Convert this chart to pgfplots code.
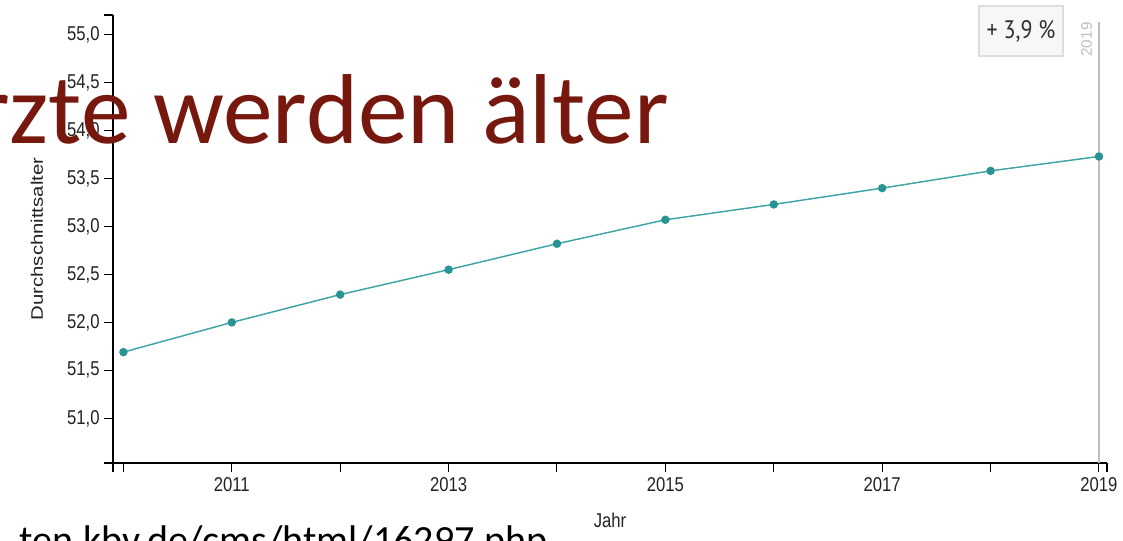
\documentclass[border=0pt]{standalone}
\usepackage{pgfplots}
\pgfplotsset{compat=1.18}
\usepackage{pgfplotstable}
\usepackage{fontspec}
\setmainfont{Liberation Sans}
\newfontfamily\calibri{Carlito}
\newfontfamily\din{PT Sans}
\definecolor{linec}{RGB}{64,164,164}
\definecolor{dotc}{RGB}{40,148,148}
\definecolor{titlec}{RGB}{118,24,13}
\definecolor{txt}{RGB}{34,34,34}
\definecolor{guide}{RGB}{190,190,190}
\definecolor{boxfill}{RGB}{247,247,247}
\definecolor{boxline}{RGB}{221,221,221}

% Durchschnittsalter der Aerzte, 2010-2019
\pgfplotstableread{
year age
2010 51.69
2011 52.00
2012 52.29
2013 52.55
2014 52.82
2015 53.07
2016 53.23
2017 53.40
2018 53.58
2019 53.73
}\agedata

\begin{document}
\begin{tikzpicture}
\begin{axis}[
    at={(84.75pt,-347.25pt)}, anchor=south west,
    scale only axis, width=745.5pt, height=336pt,
    xmin=2009.904, xmax=2019.074,
    ymin=50.534, ymax=55.205,
    axis lines=left,
    axis line style={-, black, line width=0.9pt},
    tick align=outside, major tick length=6.5pt,
    tick style={black, line width=0.8pt},
    xtick={2010,...,2019},
    xticklabels={,2011,,2013,,2015,,2017,,2019},
    ytick={51,51.5,52,52.5,53,53.5,54,54.5,55},
    extra x ticks={2009.904,2019.074}, extra x tick labels={},
    extra y ticks={50.534,55.205}, extra y tick labels={},
    extra tick style={grid=none},
    yticklabel style={/pgf/number format/.cd, fixed, fixed zerofill,
        precision=1, use comma, assume math mode=true},
    ticklabel style={font=\fontsize{12.5}{14}\selectfont, text=txt, yscale=1.2},
    every axis y label/.style={at={(rel axis cs:0,0.5)}, xshift=-57pt,
        rotate=90, anchor=center, font=\fontsize{12.5}{14}\selectfont, text=txt},
    ylabel={\scalebox{1.22}[1]{Durchschnittsalter}},
    every axis x label/.style={at={(rel axis cs:0.5,0)}, yshift=-42.75pt,
        anchor=center, yscale=1.2, font=\fontsize{12.5}{14}\selectfont, text=txt},
    xlabel={Jahr},
]
\draw[guide, line width=1.1pt] (axis cs:2019,50.534) -- (axis cs:2019,55.13);
\addplot[linec, line width=1.1pt, mark=*, mark size=2.6pt,
    mark options={draw=dotc, fill=dotc}] table[x=year, y=age] {\agedata};
\end{axis}

\node[rotate=90, text=guide, font=\fontsize{11.5}{13}\selectfont, inner sep=0]
    at (814.9pt,-29.6pt) {2019};
\node[draw=boxline, fill=boxfill, line width=0.8pt, minimum width=63pt,
    minimum height=37.5pt, inner sep=0] at (765.75pt,-23.25pt) {};
\node[inner sep=0, yscale=1.15, text={rgb,255:red,48;green,48;blue,48},
    font=\din\fontsize{16.5}{18}\selectfont] at (765.75pt,-23.25pt) {+ 3,9 \%};

\node[anchor=base east, text=titlec, inner sep=0,
    font=\calibri\fontsize{74.5}{84}\selectfont] at (501.75pt,-107.25pt)
    {Ärzte werden älter};
\node[anchor=base east, text=black, inner sep=0,
    font=\calibri\fontsize{30}{36}\selectfont] at (411pt,-414.75pt)
    {ten.kbv.de/cms/html/16297.php};

\pgfresetboundingbox
\path[use as bounding box] (0,0) rectangle (842.25pt,-405pt);
\end{tikzpicture}
\end{document}
